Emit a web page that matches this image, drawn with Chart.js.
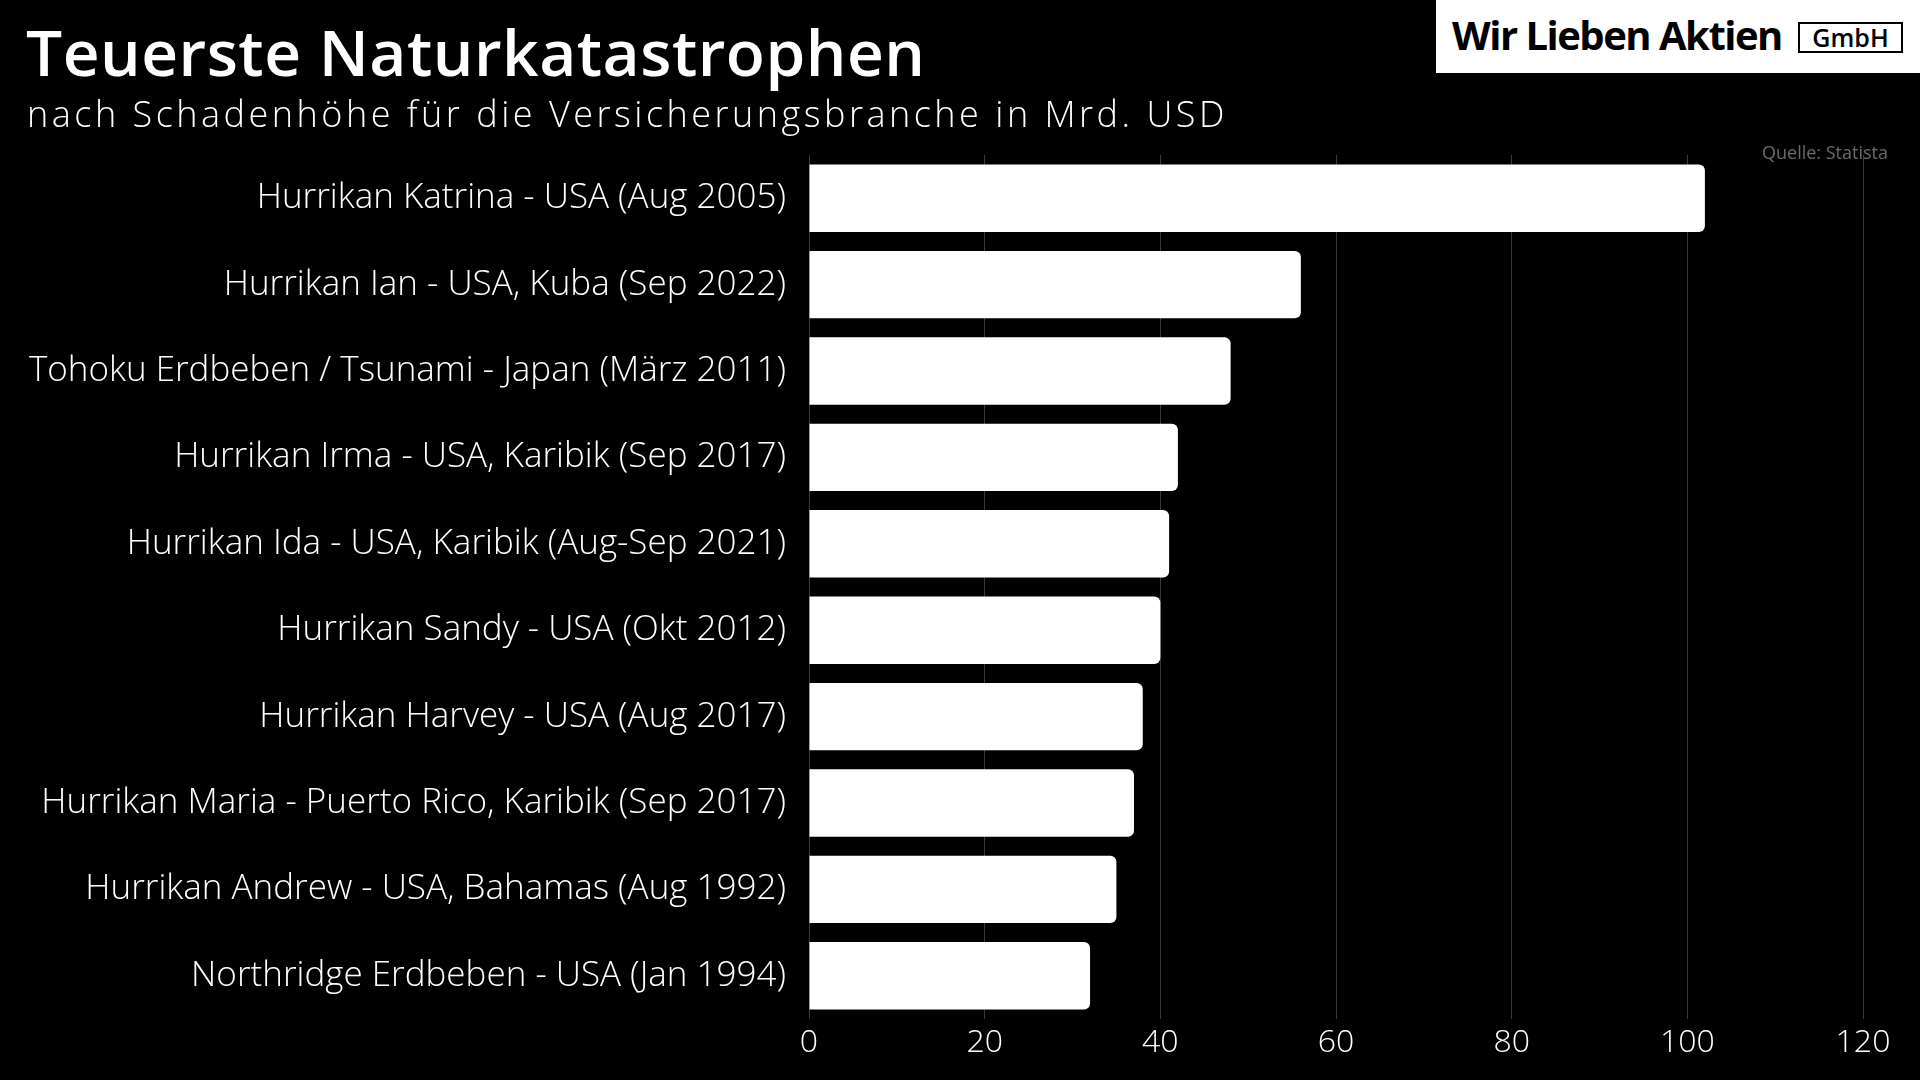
<!DOCTYPE html>
<html lang="de">
<head>
<meta charset="utf-8">
<title>Teuerste Naturkatastrophen</title>
<script src="https://cdn.jsdelivr.net/npm/chart.js@4"></script>
<style>
  html, body { margin: 0; padding: 0; background: #000; }
  body { width: 1920px; height: 1080px; position: relative; overflow: hidden; font-family: "Open Sans", sans-serif; }
  #chartBox { position: absolute; left: 0; top: 0; width: 1920px; height: 1080px; }
  .title { position: absolute; left: 26px; top: 20px; font-size: 64px; line-height: 1; font-weight: 600; color: #fff; letter-spacing: 0.5px; white-space: nowrap; }
  .subtitle { position: absolute; left: 27px; top: 96px; font-size: 36px; line-height: 1; font-weight: 300; color: #fff; letter-spacing: 3.5px; white-space: nowrap; }
  .logo { position: absolute; left: 1436px; top: 0; width: 484px; height: 73px; background: #fff; }
  .logo .name { position: absolute; left: 16px; top: 15px; font-size: 40px; line-height: 1; font-weight: 700; color: #000; letter-spacing: -1.5px; white-space: nowrap; }
  .logo .gmbh { position: absolute; left: 362px; top: 22px; width: 101px; height: 27px; border: 2px solid #000; font-size: 25px; line-height: 27px; font-weight: 600; text-align: center; color: #000; }
  .source { position: absolute; right: 32px; top: 143px; font-size: 18px; line-height: 1; color: #6a6a6a; }
</style>
</head>
<body>
<div id="chartBox"><canvas id="chart"></canvas></div>
<div class="title">Teuerste Naturkatastrophen</div>
<div class="subtitle">nach Schadenhöhe für die Versicherungsbranche in Mrd. USD</div>
<div class="logo"><span class="name">Wir Lieben Aktien</span><span class="gmbh">GmbH</span></div>
<div class="source">Quelle: Statista</div>
<script>
// Ereignisse (von oben nach unten)
const events = [
  'Hurrikan Katrina - USA (Aug 2005)',
  'Hurrikan Ian - USA, Kuba (Sep 2022)',
  'Tohoku Erdbeben / Tsunami - Japan (März 2011)',
  'Hurrikan Irma - USA, Karibik (Sep 2017)',
  'Hurrikan Ida - USA, Karibik (Aug-Sep 2021)',
  'Hurrikan Sandy - USA (Okt 2012)',
  'Hurrikan Harvey - USA (Aug 2017)',
  'Hurrikan Maria - Puerto Rico, Karibik (Sep 2017)',
  'Hurrikan Andrew - USA, Bahamas (Aug 1992)',
  'Northridge Erdbeben - USA (Jan 1994)'
];

// Schaden in Mrd. USD
const damage = [102, 56, 48, 42, 41, 40, 38, 37, 35, 32];

// x-Achse
const xTicks = [0, 20, 40, 60, 80, 100, 120];

new Chart(document.getElementById('chart'), {
  type: 'bar',
  data: {
    labels: events,
    datasets: [{
      label: 'Schaden',
      data: damage,
      backgroundColor: '#ffffff',
      borderRadius: 6,
      borderSkipped: 'start',
      categoryPercentage: 0.78,
      barPercentage: 1
    }]
  },
  options: {
    indexAxis: 'y',
    responsive: true,
    maintainAspectRatio: false,
    animation: false,
    layout: { padding: { top: 155, right: 57, left: 0, bottom: 0 } },
    plugins: {
      legend: { display: false },
      tooltip: { enabled: false }
    },
    scales: {
      x: {
        min: xTicks[0],
        max: xTicks[xTicks.length - 1],
        afterBuildTicks: s => { s.ticks = xTicks.map(v => ({ value: v })); },
        border: { display: false },
        grid: { color: '#3a3a3a', lineWidth: 1, drawTicks: false },
        ticks: { color: '#ffffff', font: { family: '"Open Sans", sans-serif', size: 32, weight: 300 }, padding: 5 },
        afterFit: s => { s.height = 61; }
      },
      y: {
        border: { display: false },
        grid: { display: false, drawTicks: false },
        ticks: { color: '#ffffff', font: { family: '"Open Sans", sans-serif', size: 35, weight: 300 }, padding: 23 },
        afterFit: s => { s.width = 809; }
      }
    }
  }
});
</script>
</body>
</html>
